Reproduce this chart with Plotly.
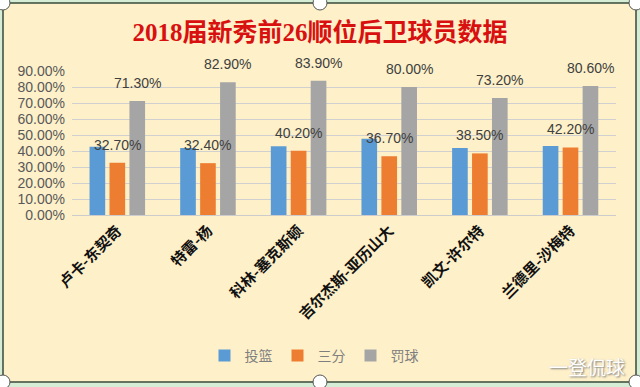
import plotly.graph_objects as go

players = ["卢卡-东契奇", "特雷-杨", "科林-塞克斯顿", "吉尔杰斯-亚历山大", "凯文-许尔特", "兰德里-沙梅特"]
fg = [0.427, 0.418, 0.430, 0.476, 0.419, 0.432]      # 投篮
three = [0.327, 0.324, 0.402, 0.367, 0.385, 0.422]   # 三分
ft = [0.713, 0.829, 0.839, 0.800, 0.732, 0.806]      # 罚球
series_names = ["投篮", "三分", "罚球"]
colors = ["#5B9BD5", "#ED7D31", "#A5A5A5"]
y_ticks = [i / 10 for i in range(10)]

W, H = 640, 387
L, R, T, B = 72, 24, 71, 172
pw, ph = W - L - R, H - T - B


def px_x(px):
    return (px - L) / pw


def px_y(py):
    return (H - B - py) / ph


fig = go.Figure()
for name, vals, col in zip(series_names, [fg, three, ft], colors):
    fig.add_trace(go.Bar(x=players, y=vals, name=name, marker_color=col,
                         marker_line_width=0))

annotations = []
for vals, shift in [(three, 0), (ft, 20)]:
    for p, v in zip(players, vals):
        annotations.append(dict(x=p, y=v, xref="x", yref="y", text=f"{v*100:.2f}%",
                                showarrow=False, xshift=shift, yshift=18, yanchor="middle",
                                font=dict(family="Liberation Sans, Arial", size=14, color="#404040")))

annotations.append(dict(x=px_x(587), y=px_y(366), xref="paper", yref="paper", text="一登侃球",
                        showarrow=False, xanchor="center", yanchor="middle",
                        font=dict(family="Noto Sans CJK SC", size=19, color="#FFFFFF",
                                  shadow="1px 1px 2px #777")))

shapes = [
    dict(type="rect", xref="paper", yref="paper", x0=px_x(3), x1=px_x(636), y0=px_y(382), y1=px_y(3),
         fillcolor="#FEF0C9", line=dict(color="#3A4A3A", width=1.5), layer="below"),
]
for cx, cy in [(3, 3), (320, 3), (636, 3), (3, 382), (320, 382), (636, 382)]:
    shapes.append(dict(type="circle", xref="paper", yref="paper", xsizemode="pixel", ysizemode="pixel",
                       xanchor=px_x(cx), yanchor=px_y(cy), x0=-7, x1=7, y0=-7, y1=7,
                       fillcolor="#FFFFFF", line=dict(color="#555555", width=1)))

fig.update_layout(
    width=W, height=H,
    margin=dict(l=L, r=R, t=T, b=B, autoexpand=False),
    paper_bgcolor="#D4EDD4",
    plot_bgcolor="rgba(0,0,0,0)",
    barmode="group", bargap=0.34, bargroupgap=0.215,
    title=dict(text="2018届新秀前26顺位后卫球员数据", x=0.5, xanchor="center",
               y=1 - 32 / H, yanchor="middle",
               font=dict(family="Liberation Serif, Noto Sans CJK SC", size=25, color="#D81010",
                         weight="bold")),
    showlegend=True,
    legend=dict(orientation="h", x=px_x(314), xanchor="center", y=px_y(356), yanchor="middle",
                font=dict(family="Noto Sans CJK SC", size=14, color="#7F7F7F"),
                bgcolor="rgba(0,0,0,0)", itemwidth=30, tracegroupgap=0),
    xaxis=dict(tickangle=-45, showgrid=False, showline=True, linecolor="#CCCCCC",
               tickfont=dict(family="Noto Sans CJK SC", size=15, color="#111111", weight="bold"),
               ticks="", automargin=False),
    yaxis=dict(range=[0, 0.9], tickvals=y_ticks + [0.9], tickformat=".2%",
               showgrid=True, gridcolor="#D0D0D0", gridwidth=1, zeroline=False,
               tickfont=dict(family="Liberation Sans, Arial", size=14, color="#595959"),
               ticks="", automargin=False, ticklabelstandoff=6),
    annotations=annotations,
    shapes=shapes,
)

fig.write_html("out.html", config={"displayModeBar": False},
               post_script="document.body.style.margin='0';document.body.style.overflow='hidden';")
